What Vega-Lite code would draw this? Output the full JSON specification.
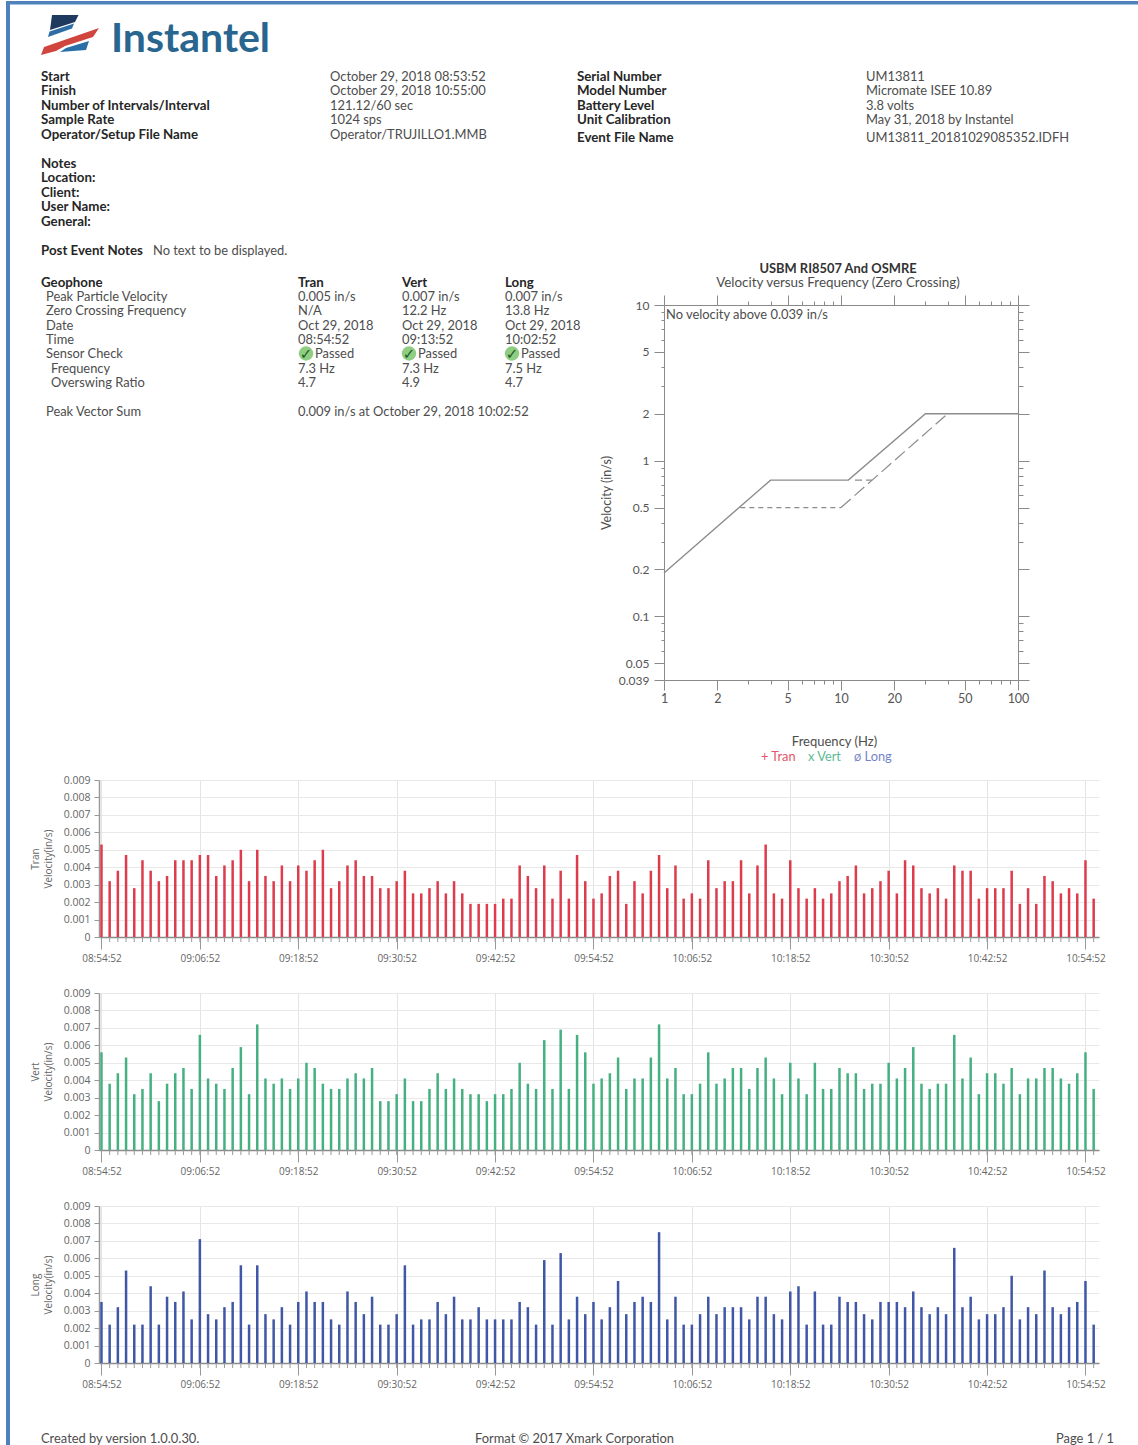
{"$schema":"https://vega.github.io/schema/vega-lite/v6.json","padding":0,"background":"white","config":{"view":{"stroke":null},"font":"Lato"},"bounds":"flush","columns":2,"spacing":{"row":56,"column":0},"align":"each",
"datasets":{"page":[
{"kind":"vframe","col":1,"line":0,"line2":27,"text":""},
{"kind":"hframe","col":0,"col2":27,"line":0,"text":""},
{"kind":"navy","col":5,"line":1,"text":""},{"kind":"midblue","col":5,"line":1,"text":""},{"kind":"red","col":5,"line":1,"text":""},{"kind":"lowblue","col":5,"line":1,"text":""},
{"kind":"logo","col":6,"line":1,"text":"Instantel"},
{"kind":"head","col":2,"line":2,"text":"Start"},{"kind":"head","col":2,"line":3,"text":"Finish"},{"kind":"head","col":2,"line":4,"text":"Number of Intervals/Interval"},{"kind":"head","col":2,"line":5,"text":"Sample Rate"},{"kind":"head","col":2,"line":6,"text":"Operator/Setup File Name"},
{"kind":"body","col":11,"line":2,"text":"October 29, 2018 08:53:52"},{"kind":"body","col":11,"line":3,"text":"October 29, 2018 10:55:00"},{"kind":"body","col":11,"line":4,"text":"121.12/60 sec"},{"kind":"body","col":11,"line":5,"text":"1024 sps"},{"kind":"body","col":11,"line":6,"text":"Operator/TRUJILLO1.MMB"},
{"kind":"head","col":19,"line":2,"text":"Serial Number"},{"kind":"head","col":19,"line":3,"text":"Model Number"},{"kind":"head","col":19,"line":4,"text":"Battery Level"},{"kind":"head","col":19,"line":5,"text":"Unit Calibration"},{"kind":"head","col":19,"line":7,"text":"Event File Name"},
{"kind":"body","col":25,"line":2,"text":"UM13811"},{"kind":"body","col":25,"line":3,"text":"Micromate ISEE 10.89"},{"kind":"body","col":25,"line":4,"text":"3.8 volts"},{"kind":"body","col":25,"line":5,"text":"May 31, 2018 by Instantel"},{"kind":"body","col":25,"line":7,"text":"UM13811_20181029085352.IDFH"},
{"kind":"head","col":2,"line":8,"text":"Notes"},{"kind":"head","col":2,"line":9,"text":"Location:"},{"kind":"head","col":2,"line":10,"text":"Client:"},{"kind":"head","col":2,"line":11,"text":"User Name:"},{"kind":"head","col":2,"line":12,"text":"General:"},
{"kind":"head","col":2,"line":13,"text":"Post Event Notes"},{"kind":"body","col":7,"line":13,"text":"No text to be displayed."},
{"kind":"head","col":2,"line":15,"text":"Geophone"},{"kind":"head","col":8,"line":15,"text":"Tran"},{"kind":"head","col":12,"line":15,"text":"Vert"},{"kind":"head","col":16,"line":15,"text":"Long"},
{"kind":"body","col":3,"line":16,"text":"Peak Particle Velocity"},{"kind":"body","col":8,"line":16,"text":"0.005 in/s"},{"kind":"body","col":12,"line":16,"text":"0.007 in/s"},{"kind":"body","col":16,"line":16,"text":"0.007 in/s"},
{"kind":"body","col":3,"line":17,"text":"Zero Crossing Frequency"},{"kind":"body","col":8,"line":17,"text":"N/A"},{"kind":"body","col":12,"line":17,"text":"12.2 Hz"},{"kind":"body","col":16,"line":17,"text":"13.8 Hz"},
{"kind":"body","col":3,"line":19,"text":"Date"},{"kind":"body","col":8,"line":19,"text":"Oct 29, 2018"},{"kind":"body","col":12,"line":19,"text":"Oct 29, 2018"},{"kind":"body","col":16,"line":19,"text":"Oct 29, 2018"},
{"kind":"body","col":3,"line":20,"text":"Time"},{"kind":"body","col":8,"line":20,"text":"08:54:52"},{"kind":"body","col":12,"line":20,"text":"09:13:52"},{"kind":"body","col":16,"line":20,"text":"10:02:52"},
{"kind":"body","col":3,"line":21,"text":"Sensor Check"},{"kind":"body","col":10,"line":21,"text":"Passed"},{"kind":"body","col":14,"line":21,"text":"Passed"},{"kind":"body","col":18,"line":21,"text":"Passed"},
{"kind":"check","col":9,"line":21,"text":"✓"},{"kind":"check","col":13,"line":21,"text":"✓"},{"kind":"check","col":17,"line":21,"text":"✓"},
{"kind":"body","col":4,"line":22,"text":"Frequency"},{"kind":"body","col":8,"line":22,"text":"7.3 Hz"},{"kind":"body","col":12,"line":22,"text":"7.3 Hz"},{"kind":"body","col":16,"line":22,"text":"7.5 Hz"},
{"kind":"body","col":4,"line":23,"text":"Overswing Ratio"},{"kind":"body","col":8,"line":23,"text":"4.7"},{"kind":"body","col":12,"line":23,"text":"4.9"},{"kind":"body","col":16,"line":23,"text":"4.7"},
{"kind":"body","col":3,"line":24,"text":"Peak Vector Sum"},{"kind":"body","col":8,"line":24,"text":"0.009 in/s at October 29, 2018 10:02:52"},
{"kind":"ctitle","col":23,"line":14,"text":"USBM RI8507 And OSMRE"},{"kind":"csub","col":23,"line":15,"text":"Velocity versus Frequency (Zero Crossing)"},
{"kind":"body","col":20,"line":18,"text":"No velocity above 0.039 in/s"},
{"kind":"legend","series":"Tran","col":21,"line":25,"text":"+ Tran"},{"kind":"legend","series":"Vert","col":22,"line":25,"text":"x Vert"},{"kind":"legend","series":"Long","col":24,"line":25,"text":"ø Long"},
{"kind":"body","col":2,"line":26,"text":"Created by version 1.0.0.30."},{"kind":"body","col":15,"line":26,"text":"Format © 2017 Xmark Corporation"},{"kind":"body","col":26,"line":26,"text":"Page 1 / 1"}
],
"bars":[
{"t":"2018-10-29T08:54:52Z","tran":0.0053,"vert":0.0056,"long":0.0035},{"t":"2018-10-29T08:55:52Z","tran":0.0032,"vert":0.0038,"long":0.0022},{"t":"2018-10-29T08:56:52Z","tran":0.0038,"vert":0.0044,"long":0.0032},{"t":"2018-10-29T08:57:52Z","tran":0.0047,"vert":0.0053,"long":0.0053},{"t":"2018-10-29T08:58:52Z","tran":0.0028,"vert":0.0032,"long":0.0022},{"t":"2018-10-29T08:59:52Z","tran":0.0044,"vert":0.0035,"long":0.0022},
{"t":"2018-10-29T09:00:52Z","tran":0.0038,"vert":0.0044,"long":0.0044},{"t":"2018-10-29T09:01:52Z","tran":0.0032,"vert":0.0028,"long":0.0022},{"t":"2018-10-29T09:02:52Z","tran":0.0035,"vert":0.0038,"long":0.0038},{"t":"2018-10-29T09:03:52Z","tran":0.0044,"vert":0.0044,"long":0.0035},{"t":"2018-10-29T09:04:52Z","tran":0.0044,"vert":0.0047,"long":0.0041},{"t":"2018-10-29T09:05:52Z","tran":0.0044,"vert":0.0035,"long":0.0025},
{"t":"2018-10-29T09:06:52Z","tran":0.0047,"vert":0.0066,"long":0.0071},{"t":"2018-10-29T09:07:52Z","tran":0.0047,"vert":0.0041,"long":0.0028},{"t":"2018-10-29T09:08:52Z","tran":0.0035,"vert":0.0038,"long":0.0025},{"t":"2018-10-29T09:09:52Z","tran":0.0041,"vert":0.0035,"long":0.0032},{"t":"2018-10-29T09:10:52Z","tran":0.0044,"vert":0.0047,"long":0.0035},{"t":"2018-10-29T09:11:52Z","tran":0.005,"vert":0.0059,"long":0.0056},
{"t":"2018-10-29T09:12:52Z","tran":0.0032,"vert":0.0032,"long":0.0022},{"t":"2018-10-29T09:13:52Z","tran":0.005,"vert":0.0072,"long":0.0056},{"t":"2018-10-29T09:14:52Z","tran":0.0035,"vert":0.0041,"long":0.0028},{"t":"2018-10-29T09:15:52Z","tran":0.0032,"vert":0.0038,"long":0.0025},{"t":"2018-10-29T09:16:52Z","tran":0.0041,"vert":0.0041,"long":0.0032},{"t":"2018-10-29T09:17:52Z","tran":0.0032,"vert":0.0035,"long":0.0022},
{"t":"2018-10-29T09:18:52Z","tran":0.0041,"vert":0.0041,"long":0.0035},{"t":"2018-10-29T09:19:52Z","tran":0.0038,"vert":0.005,"long":0.0041},{"t":"2018-10-29T09:20:52Z","tran":0.0044,"vert":0.0047,"long":0.0035},{"t":"2018-10-29T09:21:52Z","tran":0.005,"vert":0.0038,"long":0.0035},{"t":"2018-10-29T09:22:52Z","tran":0.0028,"vert":0.0035,"long":0.0025},{"t":"2018-10-29T09:23:52Z","tran":0.0032,"vert":0.0035,"long":0.0022},
{"t":"2018-10-29T09:24:52Z","tran":0.0041,"vert":0.0041,"long":0.0041},{"t":"2018-10-29T09:25:52Z","tran":0.0044,"vert":0.0044,"long":0.0035},{"t":"2018-10-29T09:26:52Z","tran":0.0035,"vert":0.0041,"long":0.0028},{"t":"2018-10-29T09:27:52Z","tran":0.0035,"vert":0.0047,"long":0.0038},{"t":"2018-10-29T09:28:52Z","tran":0.0028,"vert":0.0028,"long":0.0022},{"t":"2018-10-29T09:29:52Z","tran":0.0028,"vert":0.0028,"long":0.0022},
{"t":"2018-10-29T09:30:52Z","tran":0.0032,"vert":0.0032,"long":0.0028},{"t":"2018-10-29T09:31:52Z","tran":0.0038,"vert":0.0041,"long":0.0056},{"t":"2018-10-29T09:32:52Z","tran":0.0025,"vert":0.0028,"long":0.0022},{"t":"2018-10-29T09:33:52Z","tran":0.0025,"vert":0.0028,"long":0.0025},{"t":"2018-10-29T09:34:52Z","tran":0.0028,"vert":0.0035,"long":0.0025},{"t":"2018-10-29T09:35:52Z","tran":0.0032,"vert":0.0044,"long":0.0035},
{"t":"2018-10-29T09:36:52Z","tran":0.0025,"vert":0.0035,"long":0.0028},{"t":"2018-10-29T09:37:52Z","tran":0.0032,"vert":0.0041,"long":0.0038},{"t":"2018-10-29T09:38:52Z","tran":0.0025,"vert":0.0035,"long":0.0025},{"t":"2018-10-29T09:39:52Z","tran":0.0019,"vert":0.0032,"long":0.0025},{"t":"2018-10-29T09:40:52Z","tran":0.0019,"vert":0.0032,"long":0.0032},{"t":"2018-10-29T09:41:52Z","tran":0.0019,"vert":0.0028,"long":0.0025},
{"t":"2018-10-29T09:42:52Z","tran":0.0019,"vert":0.0032,"long":0.0025},{"t":"2018-10-29T09:43:52Z","tran":0.0022,"vert":0.0032,"long":0.0025},{"t":"2018-10-29T09:44:52Z","tran":0.0022,"vert":0.0035,"long":0.0025},{"t":"2018-10-29T09:45:52Z","tran":0.0041,"vert":0.005,"long":0.0035},{"t":"2018-10-29T09:46:52Z","tran":0.0035,"vert":0.0038,"long":0.0032},{"t":"2018-10-29T09:47:52Z","tran":0.0028,"vert":0.0035,"long":0.0022},
{"t":"2018-10-29T09:48:52Z","tran":0.0041,"vert":0.0063,"long":0.0059},{"t":"2018-10-29T09:49:52Z","tran":0.0022,"vert":0.0035,"long":0.0022},{"t":"2018-10-29T09:50:52Z","tran":0.0038,"vert":0.0069,"long":0.0063},{"t":"2018-10-29T09:51:52Z","tran":0.0022,"vert":0.0035,"long":0.0025},{"t":"2018-10-29T09:52:52Z","tran":0.0047,"vert":0.0066,"long":0.0038},{"t":"2018-10-29T09:53:52Z","tran":0.0032,"vert":0.0056,"long":0.0028},
{"t":"2018-10-29T09:54:52Z","tran":0.0022,"vert":0.0038,"long":0.0035},{"t":"2018-10-29T09:55:52Z","tran":0.0025,"vert":0.0041,"long":0.0025},{"t":"2018-10-29T09:56:52Z","tran":0.0035,"vert":0.0044,"long":0.0032},{"t":"2018-10-29T09:57:52Z","tran":0.0038,"vert":0.0053,"long":0.0047},{"t":"2018-10-29T09:58:52Z","tran":0.0019,"vert":0.0035,"long":0.0028},{"t":"2018-10-29T09:59:52Z","tran":0.0032,"vert":0.0041,"long":0.0035},
{"t":"2018-10-29T10:00:52Z","tran":0.0025,"vert":0.0041,"long":0.0038},{"t":"2018-10-29T10:01:52Z","tran":0.0038,"vert":0.0053,"long":0.0035},{"t":"2018-10-29T10:02:52Z","tran":0.0047,"vert":0.0072,"long":0.0075},{"t":"2018-10-29T10:03:52Z","tran":0.0028,"vert":0.0041,"long":0.0025},{"t":"2018-10-29T10:04:52Z","tran":0.0041,"vert":0.0047,"long":0.0038},{"t":"2018-10-29T10:05:52Z","tran":0.0022,"vert":0.0032,"long":0.0022},
{"t":"2018-10-29T10:06:52Z","tran":0.0025,"vert":0.0032,"long":0.0022},{"t":"2018-10-29T10:07:52Z","tran":0.0022,"vert":0.0038,"long":0.0028},{"t":"2018-10-29T10:08:52Z","tran":0.0044,"vert":0.0056,"long":0.0038},{"t":"2018-10-29T10:09:52Z","tran":0.0028,"vert":0.0038,"long":0.0028},{"t":"2018-10-29T10:10:52Z","tran":0.0032,"vert":0.0041,"long":0.0032},{"t":"2018-10-29T10:11:52Z","tran":0.0032,"vert":0.0047,"long":0.0032},
{"t":"2018-10-29T10:12:52Z","tran":0.0044,"vert":0.0047,"long":0.0032},{"t":"2018-10-29T10:13:52Z","tran":0.0025,"vert":0.0035,"long":0.0025},{"t":"2018-10-29T10:14:52Z","tran":0.0041,"vert":0.0047,"long":0.0038},{"t":"2018-10-29T10:15:52Z","tran":0.0053,"vert":0.0053,"long":0.0038},{"t":"2018-10-29T10:16:52Z","tran":0.0025,"vert":0.0041,"long":0.0028},{"t":"2018-10-29T10:17:52Z","tran":0.0022,"vert":0.0032,"long":0.0025},
{"t":"2018-10-29T10:18:52Z","tran":0.0044,"vert":0.005,"long":0.0041},{"t":"2018-10-29T10:19:52Z","tran":0.0028,"vert":0.0041,"long":0.0044},{"t":"2018-10-29T10:20:52Z","tran":0.0022,"vert":0.0032,"long":0.0022},{"t":"2018-10-29T10:21:52Z","tran":0.0028,"vert":0.005,"long":0.0041},{"t":"2018-10-29T10:22:52Z","tran":0.0022,"vert":0.0035,"long":0.0022},{"t":"2018-10-29T10:23:52Z","tran":0.0025,"vert":0.0035,"long":0.0022},
{"t":"2018-10-29T10:24:52Z","tran":0.0032,"vert":0.0047,"long":0.0038},{"t":"2018-10-29T10:25:52Z","tran":0.0035,"vert":0.0044,"long":0.0035},{"t":"2018-10-29T10:26:52Z","tran":0.0041,"vert":0.0044,"long":0.0035},{"t":"2018-10-29T10:27:52Z","tran":0.0025,"vert":0.0035,"long":0.0028},{"t":"2018-10-29T10:28:52Z","tran":0.0028,"vert":0.0038,"long":0.0025},{"t":"2018-10-29T10:29:52Z","tran":0.0032,"vert":0.0038,"long":0.0035},
{"t":"2018-10-29T10:30:52Z","tran":0.0038,"vert":0.005,"long":0.0035},{"t":"2018-10-29T10:31:52Z","tran":0.0025,"vert":0.0041,"long":0.0035},{"t":"2018-10-29T10:32:52Z","tran":0.0044,"vert":0.0047,"long":0.0032},{"t":"2018-10-29T10:33:52Z","tran":0.0041,"vert":0.0059,"long":0.0041},{"t":"2018-10-29T10:34:52Z","tran":0.0028,"vert":0.0038,"long":0.0032},{"t":"2018-10-29T10:35:52Z","tran":0.0025,"vert":0.0035,"long":0.0028},
{"t":"2018-10-29T10:36:52Z","tran":0.0028,"vert":0.0038,"long":0.0032},{"t":"2018-10-29T10:37:52Z","tran":0.0022,"vert":0.0038,"long":0.0028},{"t":"2018-10-29T10:38:52Z","tran":0.0041,"vert":0.0066,"long":0.0066},{"t":"2018-10-29T10:39:52Z","tran":0.0038,"vert":0.0041,"long":0.0032},{"t":"2018-10-29T10:40:52Z","tran":0.0038,"vert":0.0053,"long":0.0038},{"t":"2018-10-29T10:41:52Z","tran":0.0022,"vert":0.0032,"long":0.0025},
{"t":"2018-10-29T10:42:52Z","tran":0.0028,"vert":0.0044,"long":0.0028},{"t":"2018-10-29T10:43:52Z","tran":0.0028,"vert":0.0044,"long":0.0028},{"t":"2018-10-29T10:44:52Z","tran":0.0028,"vert":0.0038,"long":0.0032},{"t":"2018-10-29T10:45:52Z","tran":0.0038,"vert":0.0047,"long":0.005},{"t":"2018-10-29T10:46:52Z","tran":0.0019,"vert":0.0032,"long":0.0025},{"t":"2018-10-29T10:47:52Z","tran":0.0028,"vert":0.0041,"long":0.0032},
{"t":"2018-10-29T10:48:52Z","tran":0.0019,"vert":0.0041,"long":0.0028},{"t":"2018-10-29T10:49:52Z","tran":0.0035,"vert":0.0047,"long":0.0053},{"t":"2018-10-29T10:50:52Z","tran":0.0032,"vert":0.0047,"long":0.0032},{"t":"2018-10-29T10:51:52Z","tran":0.0025,"vert":0.0041,"long":0.0028},{"t":"2018-10-29T10:52:52Z","tran":0.0028,"vert":0.0038,"long":0.0032},{"t":"2018-10-29T10:53:52Z","tran":0.0025,"vert":0.0044,"long":0.0035},
{"t":"2018-10-29T10:54:52Z","tran":0.0044,"vert":0.0056,"long":0.0047},{"t":"2018-10-29T10:55:52Z","tran":0.0022,"vert":0.0035,"long":0.0022}
]},
"concat":[
{"width":99,"height":724,"data":{"name":"page"},
"encoding":{"x":{"field":"col","type":"quantitative","axis":null,"scale":{"domain":[0,1,2,3,4,5,6,7,8,9,10,11,12,13,14,15,16,17,18,19,20,21,22,23,24,25,26,27],"range":[6,8,41,46,51,70,111,153,298,306,315,330,402,409,418,475,505,512,521,577,666,761,808,838,854,866,1056,1138],"nice":false,"zero":false}},
"y":{"field":"line","type":"quantitative","axis":null,"scale":{"domain":[0,1,2,3,4,5,6,7,8,9,10,11,12,13,14,15,16,17,18,19,20,21,22,23,24,25,26,27],"range":[2.7,37,76,90.5,105,119,134,137,163,177,192,206,221,250,268,282,296,310,314,325,339,353.5,368,382,411.5,756,1438,1445],"nice":false,"zero":false}}},
"layer":[
{"transform":[{"filter":"datum.kind=='vframe'"}],"mark":{"type":"rule","color":"#4f81bd","strokeWidth":4},"encoding":{"y2":{"field":"line2"}}},
{"transform":[{"filter":"datum.kind=='hframe'"}],"mark":{"type":"rule","color":"#4f81bd","strokeWidth":3.5},"encoding":{"x2":{"field":"col2"}}},
{"transform":[{"filter":"datum.kind=='navy'"}],"mark":{"type":"point","filled":true,"opacity":1,"strokeWidth":0,"size":4,"color":"#1f3a5f","shape":"M-18,-22 L8.5,-22 L5,-15 L-20,-7 Z"}},
{"transform":[{"filter":"datum.kind=='midblue'"}],"mark":{"type":"point","filled":true,"opacity":1,"strokeWidth":0,"size":4,"color":"#2f6ea5","shape":"M-20.5,-5.5 L4,-13.5 L2,-8.5 L-22,0 Z"}},
{"transform":[{"filter":"datum.kind=='red'"}],"mark":{"type":"point","filled":true,"opacity":1,"strokeWidth":0,"size":4,"color":"#d0463f","shape":"M-29,18 L-26,10 L29,-9 L23,0 L-5,9 L-14,14 Z"}},
{"transform":[{"filter":"datum.kind=='lowblue'"}],"mark":{"type":"point","filled":true,"opacity":1,"strokeWidth":0,"size":4,"color":"#2a6fa8","shape":"M-4,11 L19,4 L16,13 L-10,15 Z"}},
{"transform":[{"filter":"datum.kind=='logo'"}],"mark":{"type":"text","align":"left","baseline":"middle","font":"Lato","fontWeight":"bold","fontSize":41,"dy":3,"color":"#28658f"},"encoding":{"text":{"field":"text"}}},
{"transform":[{"filter":"datum.kind=='check'"}],"mark":{"type":"point","filled":true,"opacity":1,"strokeWidth":0,"size":210,"shape":"circle","color":"#8fce82"}},
{"transform":[{"filter":"datum.kind=='check'"}],"mark":{"type":"text","font":"DejaVu Sans","fontWeight":"bold","fontSize":15,"color":"#1d5c22","baseline":"middle","align":"center"},"encoding":{"text":{"field":"text"}}},
{"transform":[{"filter":"datum.kind=='head'"}],"mark":{"type":"text","align":"left","baseline":"middle","dy":0.7,"font":"Lato","fontWeight":"bold","fontSize":13.3,"color":"#262626"},"encoding":{"text":{"field":"text"}}},
{"transform":[{"filter":"datum.kind=='body'"}],"mark":{"type":"text","align":"left","baseline":"middle","dy":0.7,"font":"Lato","fontSize":12.9,"color":"#4d4d4d"},"encoding":{"text":{"field":"text"}}},
{"transform":[{"filter":"datum.kind=='ctitle'"}],"mark":{"type":"text","align":"center","baseline":"middle","dy":0.7,"font":"Lato","fontWeight":"bold","fontSize":12.9,"color":"#333333"},"encoding":{"text":{"field":"text"}}},
{"transform":[{"filter":"datum.kind=='csub'"}],"mark":{"type":"text","align":"center","baseline":"middle","dy":0.7,"font":"Lato","fontSize":13.4,"color":"#4d4d4d"},"encoding":{"text":{"field":"text"}}},
{"transform":[{"filter":"datum.kind=='legend'"}],"mark":{"type":"text","align":"left","baseline":"middle","dy":0.7,"font":"Lato","fontSize":12.8},"encoding":{"text":{"field":"text"},"color":{"field":"series","type":"nominal","legend":null,"scale":{"domain":["Tran","Vert","Long"],"range":["#e0566a","#5cbb90","#7585c9"]}}}}
]},
{"width":1000,"height":724,
"layer":[
{"data":{"values":[{"f":1,"v":0.19},{"f":4,"v":0.75},{"f":11,"v":0.75},{"f":30,"v":2},{"f":100,"v":2}]},"mark":{"type":"line","color":"#8c8c8c","strokeWidth":1.4},
"encoding":{"x":{"field":"f","type":"quantitative","scale":{"type":"log","domain":[1,100],"range":[565,919],"nice":false},"axis":{"orient":"bottom","offset":-44,"values":[1,2,5,10,20,50,100],"grid":false,"tickSize":10,"domainColor":"#8a8a8a","tickColor":"#8a8a8a","labelColor":"#555555","labelFont":"Lato","labelFontSize":12.5,"labelExpr":"''+datum.value","labelOverlap":false,"labelFlush":false,"title":"Frequency (Hz)","titleFont":"Lato","titleFontSize":13,"titleFontWeight":"normal","titleColor":"#4d4d4d","titleX":735,"titleY":55}},
"y":{"field":"v","type":"quantitative","scale":{"type":"log","domain":[0.039,10],"range":[680,305],"nice":false},"axis":{"orient":"left","offset":-565,"values":[0.039,0.05,0.1,0.2,0.5,1,2,5,10],"grid":false,"tickSize":10,"labelPadding":5,"domainColor":"#8a8a8a","tickColor":"#8a8a8a","labelColor":"#555555","labelFont":"Lato","labelFontSize":12,"labelExpr":"''+datum.value","labelOverlap":false,"labelFlush":false,"title":"Velocity (in/s)","titleFont":"Lato","titleFontSize":12.5,"titleFontWeight":"normal","titleColor":"#4d4d4d","titleX":-51}}}},
{"data":{"values":[{"f":2.7,"v":0.5},{"f":10,"v":0.5}]},"mark":{"type":"line","color":"#8c8c8c","strokeWidth":1.2,"strokeDash":[5,4]},
"encoding":{"x":{"field":"f","type":"quantitative","scale":{"type":"log","domain":[1,100],"range":[565,919],"nice":false},"axis":{"orient":"top","offset":-305,"values":[1,2,5,10,20,50,100],"grid":false,"tickSize":10,"domainColor":"#8a8a8a","tickColor":"#8a8a8a","labels":false,"title":null}},
"y":{"field":"v","type":"quantitative","scale":{"type":"log","domain":[0.039,10],"range":[680,305],"nice":false},"axis":{"orient":"right","offset":-81,"values":[0.039,0.05,0.1,0.2,0.5,1,2,5,10],"grid":false,"tickSize":11,"domainColor":"#8a8a8a","tickColor":"#8a8a8a","labels":false,"title":null}}}},
{"data":{"values":[{"f":10,"v":0.5},{"f":15,"v":0.75},{"f":40,"v":2}]},"mark":{"type":"line","color":"#8c8c8c","strokeWidth":1.2,"strokeDash":[13,5]},
"encoding":{"x":{"field":"f","type":"quantitative","scale":{"type":"log","domain":[1,100],"range":[565,919],"nice":false},"axis":{"orient":"bottom","offset":-44,"values":[3,4,6,7,8,9,30,40,60,70,80,90],"grid":false,"tickSize":4,"domain":false,"tickColor":"#8a8a8a","labels":false,"title":null}},
"y":{"field":"v","type":"quantitative","scale":{"type":"log","domain":[0.039,10],"range":[680,305],"nice":false},"axis":{"orient":"left","offset":-565,"values":[0.06,0.07,0.08,0.09,0.3,0.4,0.6,0.7,0.8,0.9,3,4,6,7,8,9],"grid":false,"tickSize":3,"domain":false,"tickColor":"#8a8a8a","labels":false,"title":null}}}},
{"data":{"values":[{"f":12,"v":0.75},{"f":15,"v":0.75}]},"mark":{"type":"line","color":"#8c8c8c","strokeWidth":1.2,"strokeDash":[7,4]},
"encoding":{"x":{"field":"f","type":"quantitative","scale":{"type":"log","domain":[1,100],"range":[565,919],"nice":false},"axis":{"orient":"top","offset":-305,"values":[3,4,6,7,8,9,30,40,60,70,80,90],"grid":false,"tickSize":4,"domain":false,"tickColor":"#8a8a8a","labels":false,"title":null}},
"y":{"field":"v","type":"quantitative","scale":{"type":"log","domain":[0.039,10],"range":[680,305],"nice":false},"axis":{"orient":"right","offset":-81,"values":[0.06,0.07,0.08,0.09,0.3,0.4,0.6,0.7,0.8,0.9,3,4,6,7,8,9],"grid":false,"tickSize":5,"domain":false,"tickColor":"#8a8a8a","labels":false,"title":null}}}}
],
"resolve":{"axis":{"x":"independent","y":"independent"}}},
{"width":99,"height":157,"data":{"values":[{}]},"mark":{"type":"rect","opacity":0},"encoding":{}},
{"width":1000,"height":157,"data":{"name":"bars"},"layer":[
{"mark":{"type":"bar","width":2.5,"color":"#dc3c4c"},"encoding":{"x":{"field":"t","type":"temporal","scale":{"type":"utc","domain":["2018-10-29T08:54:34Z","2018-10-29T10:56:31Z"],"nice":false,"padding":0},"axis":{"values":["2018-10-29T08:54:52Z","2018-10-29T09:06:52Z","2018-10-29T09:18:52Z","2018-10-29T09:30:52Z","2018-10-29T09:42:52Z","2018-10-29T09:54:52Z","2018-10-29T10:06:52Z","2018-10-29T10:18:52Z","2018-10-29T10:30:52Z","2018-10-29T10:42:52Z","2018-10-29T10:54:52Z"],"format":"%H:%M:%S","labelAngle":0,"labelFont":"Open Sans","labelFontSize":10,"labelColor":"#666666","labelOverlap":false,"labelFlush":false,"labelPadding":4,"tickSize":12,"tickColor":"#999999","domainColor":"#8a8a8a","domainWidth":1.5,"grid":true,"gridColor":"#e4e4e4","title":null}},
"y":{"field":"tran","type":"quantitative","scale":{"domain":[0,0.009],"nice":false},"axis":{"values":[0,0.001,0.002,0.003,0.004,0.005,0.006,0.007,0.008,0.009],"labelExpr":"datum.value==0?'0':format(datum.value,'.3f')","labelFont":"Open Sans","labelFontSize":10.5,"labelColor":"#666666","labelOverlap":false,"labelFlush":false,"labelPadding":4,"tickSize":5,"tickColor":"#999999","domainColor":"#999999","domainWidth":1.5,"grid":true,"gridColor":"#e8e8e8","title":["Tran","Velocity(in/s)"],"titleFont":"Open Sans","titleFontSize":10,"titleFontWeight":"normal","titleColor":"#666666","titleLineHeight":13,"titlePadding":10}}}},
{"mark":{"type":"rule","y2Offset":5,"color":"#999999"},"encoding":{"x":{"field":"t","type":"temporal"},"y":{"datum":0,"axis":{"values":[0,0.001,0.002,0.003,0.004,0.005,0.006,0.007,0.008,0.009]}},"y2":{"datum":0}}}
]},
{"width":99,"height":157,"data":{"values":[{}]},"mark":{"type":"rect","opacity":0},"encoding":{}},
{"width":1000,"height":157,"data":{"name":"bars"},"layer":[
{"mark":{"type":"bar","width":2.5,"color":"#45b080"},"encoding":{"x":{"field":"t","type":"temporal","scale":{"type":"utc","domain":["2018-10-29T08:54:34Z","2018-10-29T10:56:31Z"],"nice":false,"padding":0},"axis":{"values":["2018-10-29T08:54:52Z","2018-10-29T09:06:52Z","2018-10-29T09:18:52Z","2018-10-29T09:30:52Z","2018-10-29T09:42:52Z","2018-10-29T09:54:52Z","2018-10-29T10:06:52Z","2018-10-29T10:18:52Z","2018-10-29T10:30:52Z","2018-10-29T10:42:52Z","2018-10-29T10:54:52Z"],"format":"%H:%M:%S","labelAngle":0,"labelFont":"Open Sans","labelFontSize":10,"labelColor":"#666666","labelOverlap":false,"labelFlush":false,"labelPadding":4,"tickSize":12,"tickColor":"#999999","domainColor":"#8a8a8a","domainWidth":1.5,"grid":true,"gridColor":"#e4e4e4","title":null}},
"y":{"field":"vert","type":"quantitative","scale":{"domain":[0,0.009],"nice":false},"axis":{"values":[0,0.001,0.002,0.003,0.004,0.005,0.006,0.007,0.008,0.009],"labelExpr":"datum.value==0?'0':format(datum.value,'.3f')","labelFont":"Open Sans","labelFontSize":10.5,"labelColor":"#666666","labelOverlap":false,"labelFlush":false,"labelPadding":4,"tickSize":5,"tickColor":"#999999","domainColor":"#999999","domainWidth":1.5,"grid":true,"gridColor":"#e8e8e8","title":["Vert","Velocity(in/s)"],"titleFont":"Open Sans","titleFontSize":10,"titleFontWeight":"normal","titleColor":"#666666","titleLineHeight":13,"titlePadding":10}}}},
{"mark":{"type":"rule","y2Offset":5,"color":"#999999"},"encoding":{"x":{"field":"t","type":"temporal"},"y":{"datum":0,"axis":{"values":[0,0.001,0.002,0.003,0.004,0.005,0.006,0.007,0.008,0.009]}},"y2":{"datum":0}}}
]},
{"width":99,"height":157,"data":{"values":[{}]},"mark":{"type":"rect","opacity":0},"encoding":{}},
{"width":1000,"height":157,"data":{"name":"bars"},"layer":[
{"mark":{"type":"bar","width":2.5,"color":"#3f57a6"},"encoding":{"x":{"field":"t","type":"temporal","scale":{"type":"utc","domain":["2018-10-29T08:54:34Z","2018-10-29T10:56:31Z"],"nice":false,"padding":0},"axis":{"values":["2018-10-29T08:54:52Z","2018-10-29T09:06:52Z","2018-10-29T09:18:52Z","2018-10-29T09:30:52Z","2018-10-29T09:42:52Z","2018-10-29T09:54:52Z","2018-10-29T10:06:52Z","2018-10-29T10:18:52Z","2018-10-29T10:30:52Z","2018-10-29T10:42:52Z","2018-10-29T10:54:52Z"],"format":"%H:%M:%S","labelAngle":0,"labelFont":"Open Sans","labelFontSize":10,"labelColor":"#666666","labelOverlap":false,"labelFlush":false,"labelPadding":4,"tickSize":12,"tickColor":"#999999","domainColor":"#8a8a8a","domainWidth":1.5,"grid":true,"gridColor":"#e4e4e4","title":null}},
"y":{"field":"long","type":"quantitative","scale":{"domain":[0,0.009],"nice":false},"axis":{"values":[0,0.001,0.002,0.003,0.004,0.005,0.006,0.007,0.008,0.009],"labelExpr":"datum.value==0?'0':format(datum.value,'.3f')","labelFont":"Open Sans","labelFontSize":10.5,"labelColor":"#666666","labelOverlap":false,"labelFlush":false,"labelPadding":4,"tickSize":5,"tickColor":"#999999","domainColor":"#999999","domainWidth":1.5,"grid":true,"gridColor":"#e8e8e8","title":["Long","Velocity(in/s)"],"titleFont":"Open Sans","titleFontSize":10,"titleFontWeight":"normal","titleColor":"#666666","titleLineHeight":13,"titlePadding":10}}}},
{"mark":{"type":"rule","y2Offset":5,"color":"#999999"},"encoding":{"x":{"field":"t","type":"temporal"},"y":{"datum":0,"axis":{"values":[0,0.001,0.002,0.003,0.004,0.005,0.006,0.007,0.008,0.009]}},"y2":{"datum":0}}}
]}
]}
